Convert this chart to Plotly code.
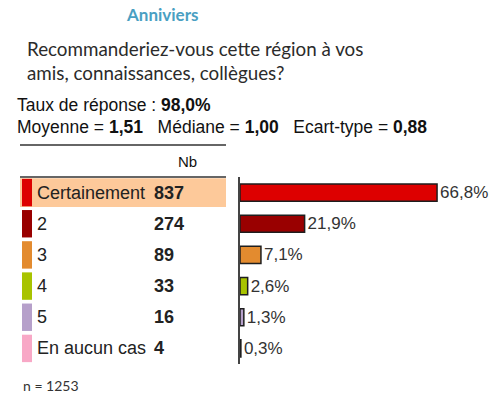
import plotly.graph_objects as go

W, H = 496, 400

# data
labels = ["Certainement", "2", "3", "4", "5", "En aucun cas"]
counts = [837, 274, 89, 33, 16, 4]
pcts = [66.8, 21.9, 7.1, 2.6, 1.3, 0.3]
colors = ["#DD0000", "#990000", "#E38B2F", "#A8C300", "#B6A0CA", "#F8A8C6"]
title = "Anniviers"
question = "Recommanderiez-vous cette région à vos<br>amis, connaissances, collègues?"
taux = "98,0%"
moyenne, mediane, ecart = "1,51", "1,00", "0,88"
n_total = 1253


def px(x):
    return x / W


def py(y):
    return 1 - y / H


fig = go.Figure()
fig.add_trace(go.Bar(
    x=pcts, y=labels, orientation="h",
    marker=dict(color=colors, line=dict(color="#1e1e1e", width=1.5)),
    width=0.55,
    text=[("%.1f" % p).replace(".", ",") + "%" for p in pcts],
    textposition="outside", cliponaxis=False, constraintext="none",
    textfont=dict(family="Liberation Sans, Arial", size=17, color="#333333"),
    hoverinfo="skip",
))

ann = []
font_txt = "Liberation Sans, Arial"
ann.append(dict(x=px(124), y=py(15), text="<b>" + title + "</b>", xanchor="left",
                font=dict(family="Lato", size=17, color="#4A9FC2")))
ann.append(dict(x=px(25), y=py(61), text=question, xanchor="left", align="left",
                font=dict(family="Lato", size=18.8, color="#2b2b2b")))
ann.append(dict(x=px(15), y=py(105), text="Taux de réponse : <b>" + taux + "</b>", xanchor="left",
                font=dict(family=font_txt, size=17.5, color="#111111")))
ann.append(dict(x=px(15), y=py(127),
                text="Moyenne = <b>%s</b>   Médiane = <b>%s</b>   Ecart-type = <b>%s</b>" % (moyenne, mediane, ecart),
                xanchor="left", font=dict(family=font_txt, size=17.5, color="#111111")))
ann.append(dict(x=px(176), y=py(161), text="Nb", xanchor="left",
                font=dict(family=font_txt, size=15, color="#111111")))
ann.append(dict(x=px(21), y=py(385), text="n = %d" % n_total, xanchor="left",
                font=dict(family="Lato", size=14, color="#333333")))
for a in ann:
    a.update(xref="paper", yref="paper", showarrow=False, yanchor="middle")

shapes = [
    dict(type="line", xref="paper", yref="paper", x0=px(20), x1=px(226), y0=py(145), y1=py(145),
         line=dict(color="#333333", width=1.5)),
    dict(type="line", xref="paper", yref="paper", x0=px(20), x1=px(226), y0=py(177), y1=py(177),
         line=dict(color="#333333", width=1.5)),
    dict(type="rect", xref="paper", yref="y", x0=px(20), x1=px(226), y0=-0.46, y1=0.46,
         fillcolor="#FDC99A", line=dict(width=0), layer="below"),
]
for i, (lab, c, col) in enumerate(zip(labels, counts, colors)):
    shapes.append(dict(type="rect", xref="paper", yref="y", x0=px(22), x1=px(32),
                       y0=i - 0.44, y1=i + 0.44, fillcolor=col, line=dict(width=0)))
    ann.append(dict(x=px(35), y=i, xref="paper", yref="y", text=lab, showarrow=False,
                    xanchor="left", font=dict(family=font_txt, size=18, color="#222222")))
    ann.append(dict(x=px(152), y=i, xref="paper", yref="y", text="<b>%d</b>" % c, showarrow=False,
                    xanchor="left", font=dict(family=font_txt, size=18, color="#222222")))

fig.update_layout(
    width=W, height=H, margin=dict(l=0, r=0, t=0, b=0),
    paper_bgcolor="white", plot_bgcolor="white",
    showlegend=False, annotations=ann, shapes=shapes,
    xaxis=dict(domain=[px(240), 1], range=[0, 256 / 2.95], visible=False),
    yaxis=dict(domain=[py(364), py(177)], range=[5.5, -0.5], showticklabels=False,
               showgrid=False, zeroline=False, showline=True, linecolor="#444444", linewidth=1.5,
               ticks=""),
    bargap=0.45,
)

fig.write_html("out.html", config={"displayModeBar": False},
               post_script="document.body.style.margin='0';")
